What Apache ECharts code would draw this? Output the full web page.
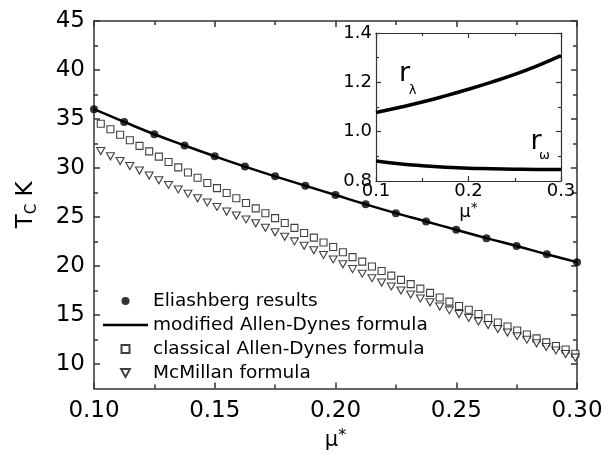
<!DOCTYPE html>
<html>
<head>
<meta charset="utf-8">
<script src="https://cdn.jsdelivr.net/npm/echarts@6/dist/echarts.min.js"></script>
<style>
  html, body { margin: 0; padding: 0; background: #fff; }
  #chart { width: 613px; height: 456px; }
</style>
</head>
<body>
<div id="chart"></div>
<script>
// Coulomb pseudopotential grid of the Eliashberg calculation
const muEliashberg = [0.1, 0.1125, 0.125, 0.1375, 0.15, 0.1625, 0.175, 0.1875, 0.2,
  0.2125, 0.225, 0.2375, 0.25, 0.2625, 0.275, 0.2875, 0.3];
// Tc (K) from the full Eliashberg equations
const tcEliashberg = [36.0, 34.7, 33.45, 32.3, 31.2, 30.15, 29.15, 28.2, 27.25,
  26.3, 25.4, 24.55, 23.7, 22.85, 22.05, 21.2, 20.4];
// Tc (K) from the modified Allen-Dynes formula (same mu* grid)
const tcModifiedAD = [36.0, 34.7, 33.45, 32.3, 31.2, 30.15, 29.15, 28.2, 27.25,
  26.3, 25.4, 24.55, 23.7, 22.85, 22.05, 21.2, 20.4];

// mu* grid of the closed-form formulas: 50 evenly spaced points
const muFormulaStart = 0.1028;
const muFormulaStep = 0.00401;
// Tc (K) from the classical Allen-Dynes formula
const tcClassicalAD = [34.52, 33.95, 33.39, 32.83, 32.26, 31.70, 31.16, 30.61, 30.07, 29.54,
  29.01, 28.48, 27.95, 27.45, 26.92, 26.43, 25.89, 25.39, 24.89, 24.39,
  23.90, 23.37, 22.90, 22.40, 21.95, 21.41, 20.91, 20.45, 19.95, 19.49,
  19.02, 18.59, 18.16, 17.70, 17.27, 16.80, 16.37, 15.93, 15.54, 15.11,
  14.68, 14.24, 13.84, 13.42, 13.02, 12.62, 12.22, 11.85, 11.49, 11.06];
// Tc (K) from the McMillan formula
const tcMcMillan = [31.73, 31.20, 30.71, 30.21, 29.74, 29.24, 28.75, 28.28, 27.82, 27.38,
  26.92, 26.49, 26.03, 25.56, 25.16, 24.76, 24.36, 23.91, 23.45, 22.98,
  22.52, 22.07, 21.61, 21.14, 20.68, 20.18, 19.69, 19.22, 18.76, 18.32,
  17.92, 17.50, 17.10, 16.70, 16.30, 15.87, 15.48, 15.11, 14.71, 14.34,
  13.98, 13.58, 13.22, 12.85, 12.49, 12.12, 11.75, 11.39, 11.03, 10.66];
const muFormula = tcClassicalAD.map((_, k) => +(muFormulaStart + k * muFormulaStep).toFixed(5));

// inset: correction ratios r_lambda and r_omega vs mu*
const muInset = [0.1, 0.125, 0.15, 0.175, 0.2, 0.225, 0.25, 0.275, 0.3];
const rLambda = [1.078, 1.098, 1.120, 1.145, 1.172, 1.201, 1.232, 1.268, 1.308];
const rOmega = [0.881, 0.870, 0.862, 0.856, 0.852, 0.850, 0.848, 0.847, 0.847];

// tick labels
const tcMajorTicks = [10, 15, 20, 25, 30, 35, 40, 45];
const tcMinorTicks = [12.5, 17.5, 22.5, 27.5, 32.5, 37.5, 42.5];

const legendNames = ['Eliashberg results', 'modified Allen-Dynes formula',
  'classical Allen-Dynes formula', 'McMillan formula'];

const FONT = 'DejaVu Sans';
const AXIS_COLOR = '#333';
const pair = (xs, ys) => xs.map((x, i) => [x, ys[i]]);
const triangleDown = 'path://M0,0L10,0L5,9Z';
const squareIcon = 'path://M0,0L10,0L10,10L0,10Z';
const lineIcon = 'path://M0,0L45,0L45,2.5L0,2.5Z';

function tickAxis(extra) {
  return Object.assign({
    type: 'value',
    axisLine: { show: true, onZero: false, lineStyle: { color: AXIS_COLOR, width: 1.5 } },
    axisTick: { show: true, inside: true, length: 6, lineStyle: { color: AXIS_COLOR, width: 1.5 } },
    axisLabel: { show: false },
    splitLine: { show: false },
    minorSplitLine: { show: false }
  }, extra);
}

const mainX = { gridIndex: 0, min: 0.1, max: 0.3, interval: 0.05 };
const mainY = { gridIndex: 0, min: 7.5, max: 45, interval: 2.5 };
const insetX = { gridIndex: 1, min: 0.1, max: 0.3, interval: 0.1 };
const insetY = { gridIndex: 1, min: 0.8, max: 1.4, interval: 0.2 };

const chart = echarts.init(document.getElementById('chart'), null, { renderer: 'canvas' });

const option = {
  animation: false,
  backgroundColor: '#fff',
  grid: [
    { left: 94, right: 36, top: 21, bottom: 59 },
    { left: 376, right: 52, top: 33, height: 148, show: true, backgroundColor: '#fff', borderWidth: 0 }
  ],
  xAxis: [
    tickAxis(Object.assign({}, mainX, {
      position: 'bottom',
      minorTick: { show: true, splitNumber: 2, length: 4, lineStyle: { color: AXIS_COLOR, width: 1.5 } },
      axisLabel: { show: true, margin: 11, fontFamily: FONT, fontSize: 23, color: '#000',
        formatter: v => v.toFixed(2) },
      name: '{m|μ}{s|*}', nameLocation: 'middle', nameGap: 18,
      nameTextStyle: { rich: {
        m: { fontFamily: FONT, fontSize: 21, lineHeight: 26, color: '#000' },
        s: { fontFamily: FONT, fontSize: 16, lineHeight: 16, verticalAlign: 'top', color: '#000' }
      } }
    })),
    tickAxis(Object.assign({}, mainX, {
      position: 'top',
      minorTick: { show: true, splitNumber: 2, length: 4, lineStyle: { color: AXIS_COLOR, width: 1.5 } }
    })),
    tickAxis(Object.assign({}, insetX, {
      position: 'bottom',
      axisLine: { show: true, onZero: false, lineStyle: { color: AXIS_COLOR, width: 1.2 } },
      axisTick: { show: true, inside: true, length: 5, lineStyle: { color: AXIS_COLOR, width: 1.2 } },
      minorTick: { show: true, splitNumber: 2, length: 3, lineStyle: { color: AXIS_COLOR, width: 1.2 } },
      axisLabel: { show: true, margin: 1, fontFamily: FONT, fontSize: 18, color: '#000',
        formatter: v => v.toFixed(1) },
      name: '{m|μ}{s|*}', nameLocation: 'middle', nameGap: 18,
      nameTextStyle: { rich: {
        m: { fontFamily: FONT, fontSize: 18, lineHeight: 22, color: '#000' },
        s: { fontFamily: FONT, fontSize: 14, lineHeight: 14, verticalAlign: 'top', color: '#000' }
      } }
    })),
    tickAxis(Object.assign({}, insetX, {
      position: 'top',
      axisLine: { show: true, onZero: false, lineStyle: { color: AXIS_COLOR, width: 1.2 } },
      axisTick: { show: true, inside: true, length: 5, lineStyle: { color: AXIS_COLOR, width: 1.2 } },
      minorTick: { show: true, splitNumber: 2, length: 3, lineStyle: { color: AXIS_COLOR, width: 1.2 } }
    }))
  ],
  yAxis: [
    // left: axis line, labels and the short half-step ticks
    tickAxis(Object.assign({}, mainY, {
      position: 'left',
      axisTick: { show: true, inside: true, length: 4, customValues: tcMinorTicks,
        lineStyle: { color: AXIS_COLOR, width: 1.5 } },
      axisLabel: { show: true, margin: 9, fontFamily: FONT, fontSize: 23, color: '#000',
        customValues: tcMajorTicks },
      name: '{t|T}{c|C}{t| K}', nameLocation: 'middle', nameRotate: 90, nameGap: 54,
      nameTextStyle: { rich: {
        t: { fontFamily: FONT, fontSize: 23, lineHeight: 28, color: '#000' },
        c: { fontFamily: FONT, fontSize: 15, lineHeight: 15, verticalAlign: 'bottom', color: '#000' }
      } }
    })),
    // left: long ticks at labelled values
    tickAxis(Object.assign({}, mainY, {
      position: 'left',
      axisLine: { show: false },
      axisTick: { show: true, inside: true, length: 6, customValues: tcMajorTicks,
        lineStyle: { color: AXIS_COLOR, width: 1.5 } }
    })),
    // right mirror
    tickAxis(Object.assign({}, mainY, {
      position: 'right',
      axisTick: { show: true, inside: true, length: 4, customValues: tcMinorTicks,
        lineStyle: { color: AXIS_COLOR, width: 1.5 } }
    })),
    tickAxis(Object.assign({}, mainY, {
      position: 'right',
      axisLine: { show: false },
      axisTick: { show: true, inside: true, length: 6, customValues: tcMajorTicks,
        lineStyle: { color: AXIS_COLOR, width: 1.5 } }
    })),
    // inset
    tickAxis(Object.assign({}, insetY, {
      position: 'left',
      axisLine: { show: true, onZero: false, lineStyle: { color: AXIS_COLOR, width: 1.2 } },
      axisTick: { show: true, inside: true, length: 5, lineStyle: { color: AXIS_COLOR, width: 1.2 } },
      minorTick: { show: true, splitNumber: 2, length: 3, lineStyle: { color: AXIS_COLOR, width: 1.2 } },
      axisLabel: { show: true, margin: 4, fontFamily: FONT, fontSize: 18, color: '#000',
        formatter: v => v.toFixed(1) }
    })),
    tickAxis(Object.assign({}, insetY, {
      position: 'right',
      axisLine: { show: true, onZero: false, lineStyle: { color: AXIS_COLOR, width: 1.2 } },
      axisTick: { show: true, inside: true, length: 5, lineStyle: { color: AXIS_COLOR, width: 1.2 } },
      minorTick: { show: true, splitNumber: 2, length: 3, lineStyle: { color: AXIS_COLOR, width: 1.2 } }
    }))
  ],
  legend: {
    data: [
      { name: legendNames[0], icon: 'circle' },
      { name: legendNames[1], icon: lineIcon },
      { name: legendNames[2], icon: squareIcon },
      { name: legendNames[3], icon: triangleDown }
    ],
    orient: 'vertical',
    left: 103,
    top: 291,
    padding: 0,
    itemWidth: 45,
    itemHeight: 8,
    itemGap: 4,
    selectedMode: false,
    textStyle: { fontFamily: FONT, fontSize: 18.5, lineHeight: 20, color: '#000' }
  },
  series: [
    {
      name: legendNames[1], type: 'line', xAxisIndex: 0, yAxisIndex: 0,
      data: pair(muEliashberg, tcModifiedAD), smooth: true, symbol: 'none', showSymbol: false,
      lineStyle: { color: '#000', width: 2.5 }, itemStyle: { color: '#000' }, z: 3
    },
    {
      name: legendNames[2], type: 'scatter', xAxisIndex: 0, yAxisIndex: 0,
      data: pair(muFormula, tcClassicalAD), symbol: 'rect', symbolSize: 7,
      itemStyle: { color: '#fff', borderColor: '#111', borderWidth: 1.1 }, z: 2
    },
    {
      name: legendNames[3], type: 'scatter', xAxisIndex: 0, yAxisIndex: 0,
      data: pair(muFormula, tcMcMillan), symbol: triangleDown, symbolSize: [8, 7],
      itemStyle: { color: '#fff', borderColor: '#111', borderWidth: 1.1 }, z: 2
    },
    {
      name: legendNames[0], type: 'scatter', xAxisIndex: 0, yAxisIndex: 0,
      data: pair(muEliashberg, tcEliashberg), symbol: 'circle', symbolSize: 8,
      itemStyle: { color: '#000' }, z: 4
    },
    {
      name: 'r_lambda', type: 'line', xAxisIndex: 2, yAxisIndex: 4,
      data: pair(muInset, rLambda), smooth: true, symbol: 'none',
      lineStyle: { color: '#000', width: 3.5 }
    },
    {
      name: 'r_omega', type: 'line', xAxisIndex: 2, yAxisIndex: 4,
      data: pair(muInset, rOmega), smooth: true, symbol: 'none',
      lineStyle: { color: '#000', width: 3.5 }
    }
  ]
};

chart.setOption(option);

// curve labels in the inset, anchored in inset data coordinates
const insetLabels = [
  { text: 'r', at: [0.131, 1.232], size: 27 },
  { text: 'λ', at: [0.1395, 1.168], size: 13 },
  { text: 'r', at: [0.273, 0.958], size: 27 },
  { text: 'ω', at: [0.282, 0.902], size: 13 }
];
chart.setOption({
  graphic: insetLabels.map(l => {
    const p = chart.convertToPixel({ xAxisIndex: 2, yAxisIndex: 4 }, l.at);
    return {
      type: 'text', x: p[0], y: p[1], z: 10,
      style: { text: l.text, fontFamily: FONT, fontSize: l.size, fill: '#000',
        align: 'center', verticalAlign: 'middle' }
    };
  })
});
</script>
</body>
</html>
